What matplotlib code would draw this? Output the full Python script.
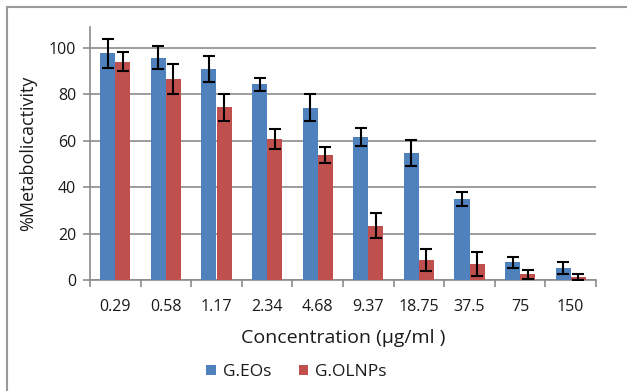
import matplotlib
matplotlib.use("Agg")
import matplotlib.pyplot as plt
import numpy as np
from matplotlib.patches import Rectangle

categories = ["0.29", "0.58", "1.17", "2.34", "4.68", "9.37", "18.75", "37.5", "75", "150"]
geos = [97.7, 95.8, 90.8, 84.3, 74.3, 61.8, 54.9, 34.9, 7.6, 5.0]
geos_err = [6.3, 4.9, 5.5, 2.8, 5.7, 3.9, 5.6, 3.2, 2.4, 2.6]
golnps = [94.1, 86.5, 74.4, 60.8, 53.9, 23.3, 8.6, 6.9, 2.4, 1.2]
golnps_err = [4.0, 6.5, 5.8, 4.2, 3.3, 5.4, 4.8, 5.0, 1.9, 1.2]
yticks = [0, 20, 40, 60, 80, 100]

W, H = 627, 391
fig = plt.figure(figsize=(W / 100, H / 100), dpi=100)
fig.patch.set_facecolor("white")
plt.rcParams['font.family'] = ['Open Sans', 'DejaVu Sans']
txt = "#1a1a1a"

ax = fig.add_axes([90 / W, 1 - 280 / H, (596 - 90) / W, (280 - 27) / H])
x = np.arange(len(categories))
bw = 0.3
blue = "#4F81BD"
red = "#C0504D"
ekw = dict(elinewidth=1.5, capthick=1.5, ecolor="black")
ax.bar(x - bw / 2, geos, bw, color=blue, label="G.EOs", zorder=3,
       yerr=geos_err, capsize=4.5, error_kw=ekw)
ax.bar(x + bw / 2, golnps, bw, color=red, label="G.OLNPs", zorder=3,
       yerr=golnps_err, capsize=4.5, error_kw=ekw)

ax.set_xlim(-0.5, len(categories) - 0.5)
ax.set_ylim(0, 109)
ax.set_yticks(yticks)
ax.set_yticklabels([str(v) for v in yticks], fontsize=11.5, color=txt)
ax.yaxis.grid(True, color="#8c8c8c", linewidth=1.2, zorder=0)
ax.set_axisbelow(True)

ax.set_xticks(x)
ax.set_xticklabels(categories, fontsize=11.5, color=txt)
ax.tick_params(axis="x", length=0, pad=14)
ax.set_xticks(np.arange(-0.5, len(categories)), minor=True)
ax.tick_params(axis="x", which="minor", length=5, color="#8c8c8c", width=1.2)
ax.tick_params(axis="y", length=5, color="#8c8c8c", width=1.2, pad=5)

for s in ["top", "right"]:
    ax.spines[s].set_visible(False)
for s in ["left", "bottom"]:
    ax.spines[s].set_color("#8c8c8c")
    ax.spines[s].set_linewidth(1.2)

ax.set_xlabel("Concentration (µg/ml )", fontsize=14, labelpad=10, color=txt)
ax.set_ylabel("%Metabolicactivity", fontsize=13, labelpad=8, color=txt)

leg = fig.legend(loc="center", bbox_to_anchor=(296.5 / W, 1 - 372 / H), ncol=2,
                 frameon=False, fontsize=12.5, handlelength=0.55, handleheight=0.55,
                 handletextpad=0.4, columnspacing=1.6)
for t in leg.get_texts():
    t.set_color(txt)

fig.patches.append(Rectangle((7 / W, -0.1), 1.2, 1 - 7 / H + 0.1, transform=fig.transFigure,
                             fill=False, edgecolor="#9a9a9a", linewidth=1.5))

fig.savefig("out.png", dpi=100)
